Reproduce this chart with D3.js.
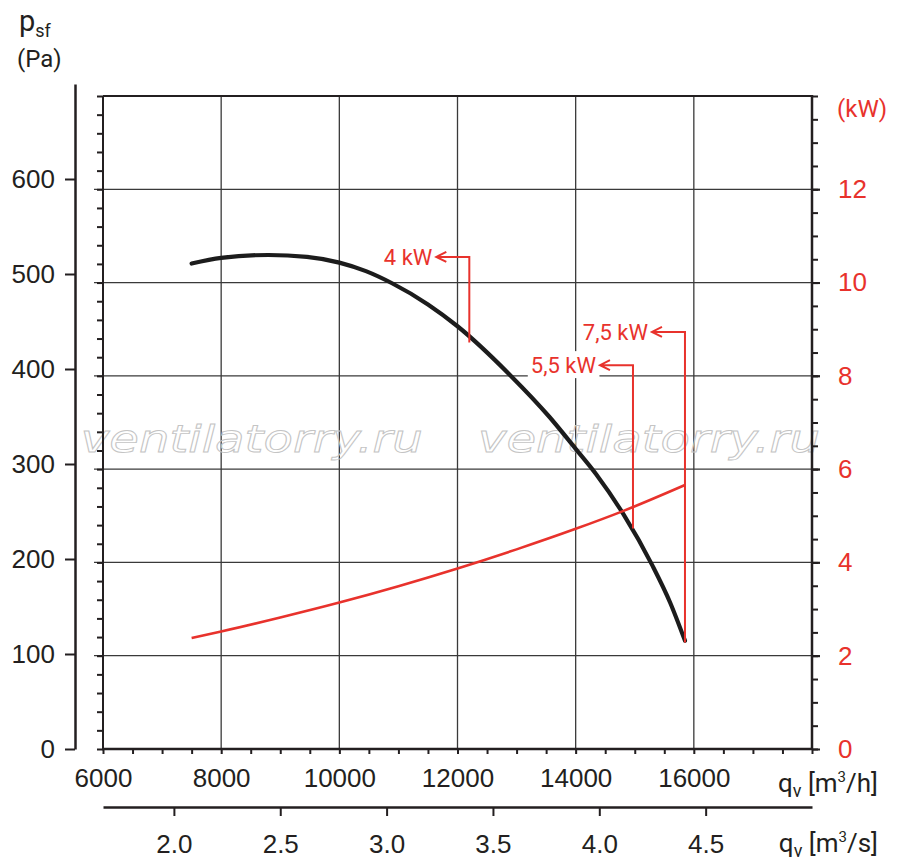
<!DOCTYPE html>
<html>
<head>
<meta charset="utf-8">
<script src="https://cdn.jsdelivr.net/npm/d3@7"></script>
<style>
  body { margin: 0; background: #fff; }
  svg { display: block; font-family: Roboto, "Noto Sans", sans-serif; }
  .axis text { fill: #231f20; font-size: 26px; }
  .axis line, .axis path { stroke: #231f20; }
  .red text { fill: #e8322c; }
</style>
</head>
<body>
<svg id="chart" width="900" height="868"></svg>
<script>
// fan curve: static pressure against air flow
var pressureQ = [7500, 8000, 8800, 9450, 10000, 10450, 10900, 11500, 12000, 12900, 13550, 14000, 14350, 14800, 15300, 15600, 15850];
var pressurePa = [511, 517, 520, 518, 512, 503, 490, 468, 445, 393, 350, 316, 289, 248, 193, 154, 114];

// absorbed power
var powerQ = [7500, 8000, 9000, 10000, 11000, 12000, 13000, 14000, 14800, 15850];
var powerKw = [2.38, 2.52, 2.82, 3.14, 3.49, 3.87, 4.28, 4.72, 5.10, 5.66];

// motor size marks
var motorLabels = ["4 kW", "5,5 kW", "7,5 kW"];
var motorQ = [12200, 14970, 15850];
var motorPa = [428, 232, 112];
var motorLabelPa = [518, 404, 439];

// tick labels
var paTicks = [0, 100, 200, 300, 400, 500, 600];
var kwTicks = [0, 2, 4, 6, 8, 10, 12];
var qhTicks = [6000, 8000, 10000, 12000, 14000, 16000];
var qsTicks = [2.0, 2.5, 3.0, 3.5, 4.0, 4.5];

var red = "#e8322c";
var ink = "#231f20";

var plot = {left: 103, right: 812, top: 96, bottom: 749};

var x = d3.scaleLinear().domain([6000, 18000]).range([plot.left, plot.right]);
var xs = d3.scaleLinear().domain([6000 / 3600, 18000 / 3600]).range([plot.left, plot.right]);
var yPa = d3.scaleLinear().domain([0, 700]).range([plot.bottom, 84]);
var yKw = d3.scaleLinear().domain([0, 14]).range([plot.bottom, plot.top]);

var svg = d3.select("#chart");

// grid
var grid = svg.append("g").attr("stroke", "#3a3a3a").attr("stroke-width", 1.3);
grid.selectAll("line.v")
    .data(qhTicks.slice(1))
    .enter().append("line")
    .attr("x1", function(d) { return x(d); })
    .attr("x2", function(d) { return x(d); })
    .attr("y1", plot.top)
    .attr("y2", plot.bottom);
grid.selectAll("line.h")
    .data(kwTicks.slice(1))
    .enter().append("line")
    .attr("x1", plot.left - 9)
    .attr("x2", plot.right + 8)
    .attr("y1", function(d) { return yKw(d); })
    .attr("y2", function(d) { return yKw(d); });

// watermark
svg.selectAll("text.wm")
    .data([0.21, 0.77])
    .enter().append("text")
    .attr("x", function(d) { return plot.left + d * (plot.right - plot.left) - 171; })
    .attr("y", 452)
    .attr("textLength", 342)
    .attr("lengthAdjust", "spacingAndGlyphs")
    .attr("font-family", "DejaVu Sans")
    .attr("font-style", "italic")
    .attr("font-size", 38)
    .attr("fill", "none")
    .attr("stroke", "#c4c4c4")
    .attr("stroke-width", 0.9)
    .text("ventilatorry.ru");

// inner left minor ticks
svg.append("g")
    .attr("class", "axis")
    .attr("transform", "translate(" + plot.left + ",0)")
    .call(d3.axisLeft(yKw).tickValues(d3.range(0, 14.01, 0.4)).tickSize(6).tickFormat("").tickSizeOuter(0))
    .call(function(g) { g.select(".domain").remove(); })
    .selectAll("line").attr("stroke-width", 2);

// right kW axis
svg.append("g")
    .attr("class", "axis")
    .attr("transform", "translate(" + plot.right + ",0)")
    .call(d3.axisRight(yKw).tickValues(d3.range(0, 14.01, 0.5)).tickSize(6).tickFormat("").tickSizeOuter(0))
    .call(function(g) { g.select(".domain").remove(); })
    .selectAll("line").attr("stroke-width", 2);

svg.append("g")
    .attr("class", "axis red")
    .attr("transform", "translate(" + plot.right + ",0)")
    .call(d3.axisRight(yKw).tickValues(kwTicks).tickSize(8).tickPadding(18).tickSizeOuter(0))
    .call(function(g) { g.select(".domain").remove(); })
    .selectAll("line").attr("stroke-width", 2);

svg.append("text")
    .attr("x", 837)
    .attr("y", 117)
    .attr("fill", red)
    .attr("font-size", 24)
    .text("(kW)");

// bottom m3/h axis
svg.append("g")
    .attr("class", "axis")
    .attr("transform", "translate(0," + plot.bottom + ")")
    .call(d3.axisBottom(x).tickValues(d3.range(6000, 18001, 500)).tickSize(5).tickFormat("").tickSizeOuter(0))
    .call(function(g) { g.select(".domain").remove(); })
    .selectAll("line").attr("stroke-width", 2);

svg.append("g")
    .attr("class", "axis")
    .attr("transform", "translate(0," + plot.bottom + ")")
    .call(d3.axisBottom(x).tickValues(qhTicks).tickSize(5).tickSizeOuter(0).tickFormat(d3.format("d")))
    .call(function(g) { g.select(".domain").remove(); })
    .selectAll("text").attr("y", 38).attr("dy", 0);

// frame
var frame = svg.append("g").attr("stroke", ink).attr("fill", "none");
frame.append("line").attr("x1", plot.left).attr("x2", plot.right).attr("y1", plot.top).attr("y2", plot.top).attr("stroke-width", 2);
frame.append("line").attr("x1", plot.left).attr("x2", plot.left).attr("y1", plot.top).attr("y2", plot.bottom).attr("stroke-width", 2);
frame.append("line").attr("x1", plot.right).attr("x2", plot.right).attr("y1", plot.top - 1).attr("y2", plot.bottom + 1).attr("stroke-width", 2.5);
frame.append("line").attr("x1", plot.left - 1).attr("x2", plot.right + 1).attr("y1", plot.bottom).attr("y2", plot.bottom).attr("stroke-width", 2.5);

// outer Pa axis
svg.append("g")
    .attr("class", "axis")
    .attr("transform", "translate(75,0)")
    .call(d3.axisLeft(yPa).tickValues(paTicks).tickSize(10).tickPadding(10).tickSizeOuter(0))
    .call(function(g) {
        g.select(".domain").attr("stroke-width", 2.5);
        g.selectAll("line").attr("stroke-width", 2);
    });

// m3/s axis
svg.append("g")
    .attr("class", "axis")
    .attr("transform", "translate(0,807)")
    .call(d3.axisBottom(xs).tickValues(qsTicks).tickSize(9).tickSizeOuter(0).tickFormat(d3.format(".1f")))
    .call(function(g) {
        g.select(".domain").attr("stroke-width", 2.5);
        g.selectAll("line").attr("stroke-width", 2);
        g.selectAll("text").attr("y", 46).attr("dy", 0);
    });

// axis titles
var pTitle = svg.append("text").attr("x", 19).attr("y", 31).attr("fill", ink).attr("font-size", 29);
pTitle.append("tspan").text("p");
pTitle.append("tspan").attr("font-size", 18).attr("dy", 6).text("sf");
svg.append("text").attr("x", 17).attr("y", 67).attr("fill", ink).attr("font-size", 24).text("(Pa)");

function flowTitle(y, unit) {
    var t = svg.append("text")
        .attr("x", 878)
        .attr("y", y)
        .attr("text-anchor", "end")
        .attr("fill", ink)
        .attr("font-size", 26);
    t.append("tspan").text("q");
    t.append("tspan").attr("font-size", 18).attr("dy", 5).text("v");
    t.append("tspan").attr("dy", -5).text(" [m");
    t.append("tspan").attr("font-size", 15).attr("dy", -10).text("3");
    t.append("tspan").attr("dy", 10).text(unit + "]");
}
flowTitle(792, "/h");
flowTitle(852, "/s");

// curves
var pressureLine = d3.line()
    .x(function(d, i) { return x(pressureQ[i]); })
    .y(function(d) { return yPa(d); })
    .curve(d3.curveMonotoneX);

var powerLine = d3.line()
    .x(function(d, i) { return x(powerQ[i]); })
    .y(function(d) { return yKw(d); })
    .curve(d3.curveMonotoneX);

svg.append("path")
    .datum(pressurePa)
    .attr("d", pressureLine)
    .attr("fill", "none")
    .attr("stroke", "#1c1c1c")
    .attr("stroke-width", 4.2)
    .attr("stroke-linecap", "round");

svg.append("path")
    .datum(powerKw)
    .attr("d", powerLine)
    .attr("fill", "none")
    .attr("stroke", red)
    .attr("stroke-width", 2.6);

// motor marks
var marks = svg.selectAll("g.motor")
    .data(motorLabels)
    .enter().append("g")
    .attr("class", "motor");

marks.each(function(label, i) {
    var g = d3.select(this);
    var mx = x(motorQ[i]);
    var top = yPa(motorLabelPa[i]);
    var tip = mx - 33;

    var txt = g.append("text")
        .attr("x", tip - 4)
        .attr("y", top)
        .attr("dy", "0.36em")
        .attr("text-anchor", "end")
        .attr("fill", red)
        .attr("font-size", 22)
        .text(label);
    var bb = txt.node().getBBox();
    g.insert("rect", "text")
        .attr("x", bb.x - 3)
        .attr("y", bb.y - 2)
        .attr("width", bb.width + 6)
        .attr("height", bb.height + 2)
        .attr("fill", "#fff");

    g.append("path")
        .attr("d", "M" + mx + "," + yPa(motorPa[i]) + "V" + top + "H" + tip +
                   "M" + (tip + 10) + "," + (top - 5) + "L" + tip + "," + top + "L" + (tip + 10) + "," + (top + 5))
        .attr("fill", "none")
        .attr("stroke", red)
        .attr("stroke-width", 2);
});
</script>
</body>
</html>
